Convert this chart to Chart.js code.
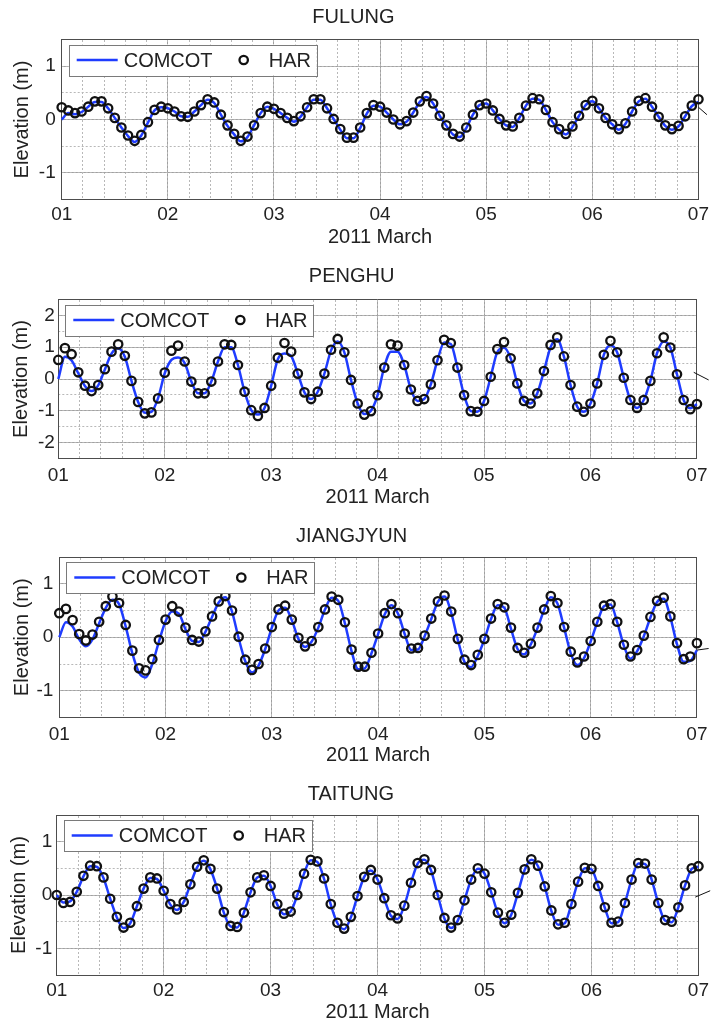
<!DOCTYPE html>
<html><head><meta charset="utf-8">
<script src="https://cdn.jsdelivr.net/npm/chart.js@4.4.1/dist/chart.umd.min.js"></script>
<style>
html,body{margin:0;padding:0;background:#fff;overflow:hidden;width:715px;height:1023px;position:relative;}
canvas{position:absolute;left:0;}
</style></head><body>
<canvas id="c1" width="715" height="258" style="top:0px"></canvas>
<canvas id="c2" width="715" height="260" style="top:258px"></canvas>
<canvas id="c3" width="715" height="258" style="top:518px"></canvas>
<canvas id="c4" width="715" height="247" style="top:776px"></canvas>
<script>
// ---- data ----
const stationNames = ['FULUNG', 'PENGHU', 'JIANGJYUN', 'TAITUNG'];
const xAxisLabel = '2011 March';
const yAxisLabel = 'Elevation (m)';
const dayTickLabels = ['01', '02', '03', '04', '05', '06', '07'];
const dayTickValues = [1, 2, 3, 4, 5, 6, 7];
const yTickValues = [[-1, 0, 1], [-2, -1, 0, 1, 2], [-1, 0, 1], [-1, 0, 1]];
const yRanges = [[-1.5, 1.5], [-2.5, 2.5], [-1.5, 1.5], [-1.5, 1.5]];
const startDay = 1;            // 2011-03-01
const sampleStepHours = 1.5;   // one sample every 1.5 h

const harFulung = [0.23,0.17,0.12,0.15,0.24,0.34,0.34,0.21,0.03,-0.15,-0.30,-0.40,-0.29,-0.05,0.18,0.24,
0.21,0.15,0.06,0.05,0.15,0.27,0.38,0.32,0.09,-0.11,-0.27,-0.40,-0.32,-0.11,0.12,0.24,
0.20,0.12,0.03,-0.03,0.06,0.23,0.38,0.38,0.21,0.01,-0.18,-0.34,-0.34,-0.15,0.12,0.27,
0.24,0.13,0.00,-0.09,-0.03,0.13,0.34,0.44,0.30,0.07,-0.11,-0.27,-0.32,-0.15,0.09,0.27,
0.30,0.17,0.01,-0.11,-0.13,0.03,0.26,0.40,0.38,0.18,-0.05,-0.18,-0.27,-0.13,0.07,0.27,
0.35,0.21,0.03,-0.09,-0.18,-0.07,0.15,0.35,0.40,0.24,0.05,-0.11,-0.18,-0.12,0.06,0.26,0.38];
const comcotFulung = [0.00,0.12,0.10,0.14,0.24,0.33,0.33,0.21,0.03,-0.15,-0.31,-0.42,-0.30,-0.06,0.17,0.23,
0.21,0.15,0.06,0.05,0.15,0.27,0.37,0.31,0.09,-0.12,-0.28,-0.41,-0.33,-0.11,0.12,0.24,
0.20,0.12,0.03,-0.04,0.05,0.23,0.37,0.37,0.21,0.01,-0.19,-0.35,-0.35,-0.16,0.11,0.26,
0.24,0.13,0.00,-0.09,-0.04,0.13,0.33,0.42,0.30,0.07,-0.12,-0.28,-0.33,-0.16,0.09,0.27,
0.30,0.17,0.01,-0.11,-0.14,0.03,0.26,0.39,0.37,0.18,-0.05,-0.19,-0.28,-0.14,0.07,0.27,
0.34,0.21,0.03,-0.09,-0.19,-0.08,0.15,0.34,0.39,0.24,0.05,-0.12,-0.19,-0.13,0.06,0.25,0.33];
const edgeFulung = [[7.0, 0.23], [7.08, 0.09]];

const harPenghu = [0.60,0.97,0.78,0.21,-0.21,-0.38,-0.19,0.31,0.86,1.09,0.73,-0.06,-0.72,-1.08,-1.05,-0.61,
0.20,0.89,1.05,0.55,-0.08,-0.45,-0.45,-0.08,0.55,1.09,1.07,0.44,-0.40,-0.98,-1.16,-0.91,
-0.21,0.67,1.13,0.86,0.17,-0.42,-0.63,-0.40,0.17,0.92,1.26,0.84,-0.03,-0.77,-1.12,-1.01,
-0.51,0.36,1.09,1.05,0.44,-0.33,-0.69,-0.63,-0.17,0.59,1.23,1.13,0.36,-0.51,-1.01,-1.03,
-0.69,0.07,0.94,1.16,0.65,-0.14,-0.69,-0.77,-0.45,0.25,1.07,1.31,0.71,-0.19,-0.87,-1.03,
-0.77,-0.14,0.76,1.20,0.84,0.04,-0.66,-0.91,-0.66,-0.06,0.81,1.31,0.99,0.15,-0.66,-0.95,-0.79];
const comcotPenghu = [0.00,0.70,0.58,0.18,-0.22,-0.38,-0.20,0.30,0.80,0.97,0.70,-0.06,-0.72,-1.06,-1.03,-0.60,
0.18,0.60,0.68,0.50,-0.08,-0.45,-0.45,-0.08,0.55,1.00,1.00,0.44,-0.40,-0.98,-1.12,-0.91,
-0.21,0.62,0.80,0.72,0.17,-0.42,-0.63,-0.40,0.17,0.90,1.18,0.84,-0.03,-0.77,-1.10,-1.00,
-0.51,0.38,0.86,0.86,0.44,-0.33,-0.69,-0.63,-0.17,0.59,1.15,1.10,0.36,-0.51,-1.01,-1.03,
-0.69,0.07,0.85,0.98,0.65,-0.14,-0.69,-0.77,-0.45,0.25,1.00,1.25,0.71,-0.19,-0.87,-1.03,
-0.77,-0.14,0.76,1.06,0.84,0.04,-0.66,-0.91,-0.66,-0.06,0.81,1.18,0.99,0.15,-0.66,-0.92,-0.79];
const edgePenghu = [[6.97, 0.21], [7.11, -0.03]];

const harJiangjyun = [0.45,0.53,0.32,0.06,-0.06,0.05,0.29,0.58,0.76,0.64,0.23,-0.25,-0.58,-0.62,-0.41,-0.05,
0.33,0.58,0.48,0.18,-0.05,-0.08,0.11,0.39,0.67,0.77,0.50,0.01,-0.42,-0.61,-0.50,-0.21,
0.19,0.52,0.59,0.33,-0.01,-0.17,-0.07,0.19,0.52,0.76,0.70,0.28,-0.23,-0.55,-0.55,-0.29,
0.07,0.45,0.62,0.45,0.07,-0.21,-0.20,0.03,0.35,0.67,0.78,0.48,-0.03,-0.42,-0.52,-0.33,
-0.03,0.35,0.62,0.56,0.18,-0.20,-0.29,-0.12,0.18,0.52,0.77,0.64,0.19,-0.27,-0.47,-0.36,
-0.07,0.29,0.59,0.62,0.29,-0.14,-0.36,-0.24,0.03,0.38,0.68,0.74,0.39,-0.11,-0.41,-0.36,-0.11];
const comcotJiangjyun = [0.00,0.28,0.20,-0.04,-0.17,-0.04,0.26,0.55,0.70,0.62,0.20,-0.30,-0.66,-0.75,-0.50,-0.08,
0.30,0.48,0.44,0.15,-0.07,-0.09,0.10,0.38,0.65,0.75,0.48,-0.02,-0.45,-0.66,-0.53,-0.22,
0.18,0.50,0.55,0.32,-0.03,-0.18,-0.08,0.18,0.52,0.74,0.68,0.26,-0.26,-0.60,-0.58,-0.30,
0.06,0.43,0.60,0.44,0.06,-0.24,-0.23,0.02,0.34,0.66,0.76,0.46,-0.05,-0.46,-0.56,-0.35,
-0.04,0.34,0.60,0.55,0.16,-0.22,-0.32,-0.13,0.17,0.51,0.75,0.63,0.18,-0.30,-0.52,-0.39,
-0.08,0.28,0.58,0.61,0.28,-0.16,-0.40,-0.26,0.02,0.37,0.66,0.72,0.37,-0.13,-0.46,-0.44,-0.24];
const edgeJiangjyun = [[7.0, -0.24], [7.11, -0.21]];

const harTaitung = [0.00,-0.15,-0.13,0.06,0.36,0.55,0.54,0.33,-0.07,-0.41,-0.61,-0.52,-0.21,0.12,0.33,0.31,
0.08,-0.17,-0.27,-0.13,0.20,0.53,0.65,0.49,0.12,-0.32,-0.58,-0.60,-0.33,0.05,0.33,0.37,
0.17,-0.17,-0.35,-0.31,0.00,0.40,0.66,0.63,0.31,-0.17,-0.52,-0.63,-0.41,-0.02,0.34,0.47,
0.29,-0.06,-0.38,-0.44,-0.20,0.23,0.60,0.67,0.47,0.00,-0.43,-0.61,-0.47,-0.10,0.29,0.50,
0.40,0.05,-0.33,-0.52,-0.37,0.04,0.48,0.67,0.55,0.16,-0.29,-0.55,-0.52,-0.17,0.25,0.51,
0.49,0.17,-0.23,-0.52,-0.50,-0.15,0.29,0.60,0.59,0.29,-0.15,-0.47,-0.50,-0.23,0.18,0.50,0.54];
const comcotTaitung = [0.00,-0.14,-0.12,0.06,0.35,0.54,0.53,0.32,-0.07,-0.42,-0.62,-0.53,-0.21,0.12,0.32,0.30,
0.08,-0.18,-0.28,-0.13,0.20,0.52,0.64,0.48,0.12,-0.33,-0.59,-0.61,-0.33,0.05,0.33,0.36,
0.17,-0.18,-0.36,-0.31,0.00,0.40,0.65,0.62,0.30,-0.18,-0.53,-0.64,-0.42,-0.02,0.34,0.46,
0.29,-0.07,-0.39,-0.45,-0.20,0.23,0.59,0.66,0.46,0.00,-0.44,-0.62,-0.48,-0.10,0.29,0.49,
0.40,0.05,-0.34,-0.53,-0.37,0.04,0.47,0.66,0.54,0.16,-0.30,-0.56,-0.53,-0.17,0.25,0.50,
0.48,0.17,-0.24,-0.53,-0.51,-0.15,0.29,0.59,0.58,0.29,-0.16,-0.48,-0.51,-0.23,0.18,0.49,0.53];
const edgeTaitung = [[6.97, -0.04], [7.11, 0.08]];

// ---- layout (positions only) ----
const layouts = [
  {plotLeft: 61.7, padRight: 8.3, titlePad: {top: 7, bottom: 12.5}, yTitlePad: 12.5, yTickPad: 6, xAxisH: 58.5, xTickPad: 6, xTitlePad: 10.5},
  {plotLeft: 58.3, padRight: 11.7, titlePad: {top: 8.5, bottom: 13}, yTitlePad: 11, yTickPad: 3.5, xAxisH: 59.5, xTickPad: 7.5, xTitlePad: 10.5},
  {plotLeft: 59.3, padRight: 11.7, titlePad: {top: 8.5, bottom: 10.5}, yTitlePad: 12, yTickPad: 6, xAxisH: 58.5, xTickPad: 7.5, xTitlePad: 10.5},
  {plotLeft: 56.7, padRight: 13.3, titlePad: {top: 8, bottom: 11}, yTitlePad: 9, yTickPad: 4.5, xAxisH: 48, xTickPad: 6, xTitlePad: 0.5}
];

const FONT = "'Liberation Sans', Arial, Helvetica, sans-serif";
const TEXT = '#222';
const BLUE = '#1f3cff';
const MAJOR = '#a0a0a0';
const MINOR = '#b8b8b8';
const FRAME = '#4d4d4d';

const toPoints = (vals) => vals.map((v, i) => ({x: startDay + i * sampleStepHours / 24, y: v}));

const boxLegend = {
  id: 'boxLegend',
  afterDatasetsDraw(chart) {
    const {ctx, chartArea} = chart;
    const ds = chart.data.datasets;
    const x = chartArea.left + 7, y = chartArea.top + 5, w = 248, h = 31;
    const cy = y + h / 2;
    ctx.save();
    ctx.fillStyle = '#fff';
    ctx.fillRect(x, y, w, h);
    ctx.strokeStyle = '#7a7a7a';
    ctx.lineWidth = 1;
    ctx.strokeRect(Math.round(x) + 0.5, Math.round(y) + 0.5, w, h);
    ctx.strokeStyle = ds[0].borderColor;
    ctx.lineWidth = ds[0].borderWidth;
    ctx.beginPath(); ctx.moveTo(x + 8, cy); ctx.lineTo(x + 49, cy); ctx.stroke();
    ctx.font = '20px ' + FONT;
    ctx.fillStyle = TEXT;
    ctx.textBaseline = 'middle';
    ctx.textAlign = 'left';
    ctx.fillText(ds[0].label, x + 55, cy + 1);
    ctx.strokeStyle = ds[1].pointBorderColor;
    ctx.lineWidth = ds[1].pointBorderWidth;
    ctx.beginPath(); ctx.arc(x + 175, cy, ds[1].pointRadius, 0, Math.PI * 2); ctx.stroke();
    ctx.fillText(ds[1].label, x + 200, cy + 1);
    ctx.restore();
  }
};

function makePanel(id, title, har, comcot, edge, yr, yTicks, L) {
  return new Chart(document.getElementById(id), {
    type: 'line',
    data: {
      datasets: [
        {label: 'COMCOT', data: toPoints(comcot), borderColor: BLUE, borderWidth: 2.5, pointRadius: 0,
         cubicInterpolationMode: 'monotone', order: 2, clip: 4},
        {label: 'HAR', data: toPoints(har), showLine: false, pointRadius: 4.2, pointBorderWidth: 2.3,
         pointBorderColor: '#111', pointBackgroundColor: 'rgba(0,0,0,0)', order: 1, clip: false},
        {label: 'edge', data: edge.map(p => ({x: p[0], y: p[1]})), borderColor: '#111', borderWidth: 1,
         pointRadius: 0, order: 0, clip: false}
      ]
    },
    options: {
      responsive: false, animation: false, devicePixelRatio: 1, events: [],
      layout: {padding: {left: 0, right: L.padRight, top: 0, bottom: 0}, autoPadding: false},
      plugins: {
        legend: {display: false}, tooltip: {enabled: false},
        title: {display: true, text: title, color: TEXT, padding: L.titlePad,
                font: {family: FONT, size: 20, weight: 'normal', lineHeight: 1}}
      },
      scales: {
        x: {type: 'linear', position: 'bottom', min: 1, max: 7,
            ticks: {padding: L.xTickPad, color: TEXT, maxRotation: 0, autoSkip: false,
                    font: {family: FONT, size: 19, lineHeight: 1},
                    callback: (v) => dayTickLabels[dayTickValues.indexOf(Math.round(v))]},
            afterBuildTicks: (s) => { s.ticks = dayTickValues.map(v => ({value: v})); },
            afterFit: (s) => { s.height = L.xAxisH; },
            grid: {color: MAJOR, lineWidth: 1, drawTicks: false},
            border: {display: true, color: FRAME, width: 1},
            title: {display: true, text: xAxisLabel, color: TEXT, padding: {top: 0, bottom: L.xTitlePad},
                    font: {family: FONT, size: 20, lineHeight: 1}}},
        x2: {type: 'linear', position: 'top', min: 1, max: 7,
             ticks: {display: false, stepSize: 0.2},
             afterFit: (s) => { s.height = 0; },
             grid: {color: MINOR, lineWidth: 1, drawTicks: false},
             border: {display: true, color: FRAME, width: 1, dash: [2, 2]}},
        y: {type: 'linear', position: 'left', min: yr[0], max: yr[1],
            ticks: {padding: L.yTickPad, color: TEXT, autoSkip: false,
                    font: {family: FONT, size: 19, lineHeight: 1}},
            afterBuildTicks: (s) => { s.ticks = yTicks.map(v => ({value: v})); },
            afterFit: (s) => { s.width = L.plotLeft; },
            grid: {color: MAJOR, lineWidth: 1, drawTicks: false},
            border: {display: true, color: FRAME, width: 1},
            title: {display: true, text: yAxisLabel, color: TEXT, padding: {top: L.yTitlePad, bottom: 0},
                    font: {family: FONT, size: 20, lineHeight: 1}}},
        y2: {type: 'linear', position: 'right', min: yr[0], max: yr[1],
             ticks: {display: false, stepSize: 0.5},
             afterFit: (s) => { s.width = 0; },
             grid: {color: MINOR, lineWidth: 1, drawTicks: false},
             border: {display: true, color: FRAME, width: 1, dash: [2, 2]}}
      }
    },
    plugins: [boxLegend]
  });
}

makePanel('c1', stationNames[0], harFulung, comcotFulung, edgeFulung, yRanges[0], yTickValues[0], layouts[0]);
makePanel('c2', stationNames[1], harPenghu, comcotPenghu, edgePenghu, yRanges[1], yTickValues[1], layouts[1]);
makePanel('c3', stationNames[2], harJiangjyun, comcotJiangjyun, edgeJiangjyun, yRanges[2], yTickValues[2], layouts[2]);
makePanel('c4', stationNames[3], harTaitung, comcotTaitung, edgeTaitung, yRanges[3], yTickValues[3], layouts[3]);
</script>
</body></html>
